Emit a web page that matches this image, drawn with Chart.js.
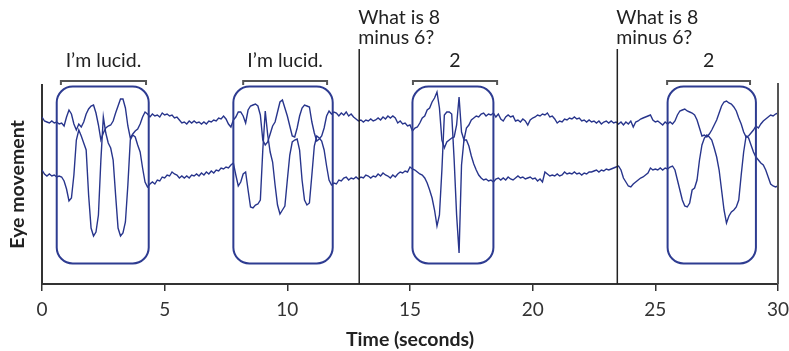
<!DOCTYPE html>
<html>
<head>
<meta charset="utf-8">
<script src="https://cdn.jsdelivr.net/npm/chart.js@4.4.1/dist/chart.umd.min.js"></script>
<style>
  html, body { margin: 0; padding: 0; background: #fff; }
  #wrap { width: 789px; height: 351px; }
</style>
</head>
<body>
<div id="wrap"><canvas id="chart" width="789" height="351"></canvas></div>
<script>
'use strict';

// sample times (s)
const seconds = [
  0,0.1,0.2,0.3,0.4,0.5,0.6,0.7,0.8,0.9,
  1,1.1,1.2,1.3,1.4,1.5,1.6,1.7,1.8,1.9,
  2,2.1,2.2,2.3,2.4,2.5,2.6,2.7,2.8,2.9,
  3,3.1,3.2,3.3,3.4,3.5,3.6,3.7,3.8,3.9,
  4,4.1,4.2,4.3,4.4,4.5,4.6,4.7,4.8,4.9,
  5,5.1,5.2,5.3,5.4,5.5,5.6,5.7,5.8,5.9,
  6,6.1,6.2,6.3,6.4,6.5,6.6,6.7,6.8,6.9,
  7,7.1,7.2,7.3,7.4,7.5,7.6,7.7,7.8,7.9,
  8,8.1,8.2,8.3,8.4,8.5,8.6,8.7,8.8,8.9,
  9,9.1,9.2,9.3,9.4,9.5,9.6,9.7,9.8,9.9,
  10,10.1,10.2,10.3,10.4,10.5,10.6,10.7,10.8,10.9,
  11,11.1,11.2,11.3,11.4,11.5,11.6,11.7,11.8,11.9,
  12,12.1,12.2,12.3,12.4,12.5,12.6,12.7,12.8,12.9,
  13,13.1,13.2,13.3,13.4,13.5,13.6,13.7,13.8,13.9,
  14,14.1,14.2,14.3,14.4,14.5,14.6,14.7,14.8,14.9,
  15,15.1,15.2,15.3,15.4,15.5,15.6,15.7,15.8,15.9,
  16,16.1,16.2,16.3,16.4,16.5,16.6,16.7,16.8,16.9,
  17,17.1,17.2,17.3,17.4,17.5,17.6,17.7,17.8,17.9,
  18,18.1,18.2,18.3,18.4,18.5,18.6,18.7,18.8,18.9,
  19,19.1,19.2,19.3,19.4,19.5,19.6,19.7,19.8,19.9,
  20,20.1,20.2,20.3,20.4,20.5,20.6,20.7,20.8,20.9,
  21,21.1,21.2,21.3,21.4,21.5,21.6,21.7,21.8,21.9,
  22,22.1,22.2,22.3,22.4,22.5,22.6,22.7,22.8,22.9,
  23,23.1,23.2,23.3,23.4,23.5,23.6,23.7,23.8,23.9,
  24,24.1,24.2,24.3,24.4,24.5,24.6,24.7,24.8,24.9,
  25,25.1,25.2,25.3,25.4,25.5,25.6,25.7,25.8,25.9,
  26,26.1,26.2,26.3,26.4,26.5,26.6,26.7,26.8,26.9,
  27,27.1,27.2,27.3,27.4,27.5,27.6,27.7,27.8,27.9,
  28,28.1,28.2,28.3,28.4,28.5,28.6,28.7,28.8,28.9,
  29,29.1,29.2,29.3,29.4,29.5,29.6,29.7,29.8,29.9,
  30
];

// upper eye channel (arbitrary units)
const upperTrace = [
  83,79,78,77,79,77,78,76,77,74,
  83,90,86,76,70,76,73,78,86,91,
  94,95,87,75,60,67,72,74,75,79,
  87,94,101,101,92,74,62,66,69,71,
  76,83,88,86,83,86,84,85,83,87,
  85,86,84,85,82,83,80,77,78,76,
  79,77,79,77,78,76,78,76,79,78,
  80,79,82,81,84,81,76,73,80,83,
  88,88,84,77,90,94,95,96,94,85,
  60,55,58,66,74,78,88,98,100,92,
  84,74,64,63,72,84,92,95,94,93,
  78,67,59,61,64,72,84,89,86,88,
  87,84,87,85,88,84,86,83,81,79,
  80,78,80,79,81,79,80,82,80,83,
  81,84,82,84,82,77,79,76,77,74,
  75,69,72,73,77,82,84,90,92,98,
  102,108,92,60,52,58,60,62,63,75,
  103,68,60,72,75,80,82,84,83,86,
  87,84,86,85,87,83,86,81,79,83,
  85,83,84,79,80,78,81,79,75,80,
  82,83,85,84,86,85,87,83,84,81,
  77,79,78,81,80,82,81,83,81,82,
  79,80,78,80,78,79,77,79,76,78,
  79,77,79,77,78,76,78,75,78,76,
  79,73,78,79,81,82,83,84,85,80,
  78,79,77,75,78,76,78,76,79,85,
  89,90,91,89,88,87,85,80,72,64,
  65,63,66,70,75,80,87,94,98,99,
  97,96,93,89,82,76,68,63,64,67,
  70,74,72,76,79,81,83,85,84,86,
  87
];

// lower eye channel (arbitrary units)
const lowerTrace = [
  30,26,24,26,24,25,23,24,23,19,
  11,-1,2,25,60,70,64,57,50,5,
  -28,-36,-32,-15,40,83,67,57,52,40,
  5,-28,-36,-33,-22,15,60,65,63,55,
  48,32,18,13,16,18,16,20,19,23,
  22,25,24,28,26,25,22,24,22,24,
  22,25,24,26,24,27,25,28,26,29,
  27,30,29,32,31,33,32,35,37,25,
  14,18,26,28,10,-7,-8,-5,-4,0,
  50,89,65,48,38,15,-5,-14,-10,-6,
  20,45,58,60,61,50,20,0,-5,-3,
  25,54,64,62,59,50,34,20,15,17,
  16,20,19,22,23,20,22,21,23,21,
  23,22,25,24,22,24,23,26,24,27,
  25,24,22,25,23,26,28,27,29,28,
  33,31,30,28,26,25,22,17,10,2,
  -10,-26,-15,30,85,88,88,86,40,-15,
  -53,35,60,60,54,44,36,30,25,22,
  20,21,19,20,18,21,22,20,22,20,
  23,21,20,22,24,22,23,21,22,23,
  21,22,19,21,18,28,26,24,25,24,
  26,24,25,28,26,27,26,28,26,27,
  25,27,26,28,28,29,30,28,30,29,
  31,30,31,32,33,34,30,22,18,14,
  13,16,18,20,22,23,25,27,32,30,
  31,30,32,30,32,31,33,34,30,20,
  10,0,-6,-7,-3,10,12,20,40,55,
  62,65,63,60,52,43,30,10,-10,-23,
  -16,-12,-10,-7,0,25,48,64,62,55,
  48,43,40,37,35,30,23,16,14,13,
  14
];

// signalling windows (boxes) and spoken intervals (brackets), in seconds
const boxStart = [0.6, 7.8, 15.1, 25.5];
const boxEnd = [4.35, 11.85, 18.4, 29.1];
const bracketStart = [0.77, 8.2, 15.12, 25.48];
const bracketEnd = [4.24, 11.62, 18.55, 28.86];
const bracketLabels = ['I’m lucid.', 'I’m lucid.', '2', '2'];
const questionTimes = [12.93, 23.45];
const questionLines = ['What is 8', 'minus 6?'];
const xTickStep = 5;

const traceColor = '#28358c';
const FONT = 'Lato, "Open Sans", sans-serif';

function toPoints(values){
    return seconds.map((t, i) => ({ x: t, y: values[i] }));
}

function roundedRect(ctx, x, y, w, h, r){
    ctx.beginPath();
    ctx.moveTo(x + r, y);
    ctx.lineTo(x + w - r, y);
    ctx.arcTo(x + w, y, x + w, y + r, r);
    ctx.lineTo(x + w, y + h - r);
    ctx.arcTo(x + w, y + h, x + w - r, y + h, r);
    ctx.lineTo(x + r, y + h);
    ctx.arcTo(x, y + h, x, y + h - r, r);
    ctx.lineTo(x, y + r);
    ctx.arcTo(x, y, x + r, y, r);
    ctx.closePath();
}

const annotations = {
    id: 'annotations',
    afterDatasetsDraw: function(chart){
        const { ctx, chartArea, scales: { x } } = chart;
        const top = chartArea.top, bottom = chartArea.bottom;
        ctx.save();

        // right frame line
        ctx.strokeStyle = '#555';
        ctx.lineWidth = 2;
        ctx.beginPath();
        ctx.moveTo(x.getPixelForValue(30), top - 2);
        ctx.lineTo(x.getPixelForValue(30), bottom);
        ctx.stroke();

        // rounded boxes
        ctx.strokeStyle = '#2e3c91';
        ctx.lineWidth = 2;
        for( var i = 0 ; i < boxStart.length ; i++ ){
            const l = x.getPixelForValue(boxStart[i]);
            const r = x.getPixelForValue(boxEnd[i]);
            roundedRect(ctx, l, top + 1.5, r - l, (bottom - 20.5) - (top + 1.5), 16);
            ctx.stroke();
        }

        // question onsets
        ctx.strokeStyle = '#222';
        ctx.lineWidth = 1.5;
        ctx.fillStyle = '#222';
        ctx.font = '19.5px ' + FONT;
        ctx.textAlign = 'left';
        ctx.textBaseline = 'alphabetic';
        for( let t of questionTimes ){
            const px = x.getPixelForValue(t);
            ctx.beginPath();
            ctx.moveTo(px, top - 36);
            ctx.lineTo(px, bottom);
            ctx.stroke();
            ctx.fillText(questionLines[0], px - 1, top - 61);
            ctx.fillText(questionLines[1], px - 1, top - 41);
        }

        // brackets with labels
        ctx.strokeStyle = '#555';
        ctx.lineWidth = 2;
        ctx.textAlign = 'center';
        ctx.font = '19.5px ' + FONT;
        for( var i = 0 ; i < bracketStart.length ; i++ ){
            const l = x.getPixelForValue(bracketStart[i]);
            const r = x.getPixelForValue(bracketEnd[i]);
            ctx.beginPath();
            ctx.moveTo(l, top);
            ctx.lineTo(l, top - 4);
            ctx.lineTo(r, top - 4);
            ctx.lineTo(r, top);
            ctx.stroke();
            ctx.fillText(bracketLabels[i], (l + r) / 2, top - 18);
        }
        ctx.restore();
    }
};

const ctx = document.getElementById('chart').getContext('2d');
window.chart = new Chart(ctx, {
    type: 'line',
    data: {
        datasets: [
            { label: 'upper', data: toPoints(upperTrace), borderColor: traceColor, borderWidth: 1.4 },
            { label: 'lower', data: toPoints(lowerTrace), borderColor: traceColor, borderWidth: 1.4 },
        ],
    },
    options: {
        responsive: false,
        animation: false,
        devicePixelRatio: 1,
        layout: { padding: { top: 85, right: 11, left: 0, bottom: 0 } },
        elements: {
            point: { radius: 0 },
            line: { tension: 0, fill: false },
        },
        plugins: {
            legend: { display: false },
            tooltip: { enabled: false },
        },
        scales: {
            x: {
                type: 'linear',
                min: 0,
                max: 30,
                ticks: { stepSize: xTickStep, color: '#333', font: { family: FONT, size: 19 }, padding: 7, maxRotation: 0 },
                grid: { drawOnChartArea: false, drawTicks: true, tickLength: 7, color: '#333', lineWidth: 1.5 },
                border: { display: true, color: '#333', width: 2 },
                title: { display: true, text: 'Time (seconds)', color: '#222', font: { family: FONT, size: 19.5, weight: 'bold' }, padding: { top: 0, bottom: 0 } },
                afterFit: function(scale){
                    scale.height = 67;
                    scale.paddingLeft = 0;
                    scale.paddingRight = 0;
                },
            },
            y: {
                min: -84,
                max: 115,
                ticks: { display: false },
                grid: { display: false, drawTicks: false },
                border: { display: true, color: '#333', width: 2 },
                title: { display: true, text: 'Eye movement', color: '#222', font: { family: FONT, size: 19.5, weight: 'bold' }, padding: { top: 6, bottom: 0 } },
                afterFit: function(scale){ scale.width = 42; },
            },
        },
    },
    plugins: [annotations],
});
</script>
</body>
</html>
